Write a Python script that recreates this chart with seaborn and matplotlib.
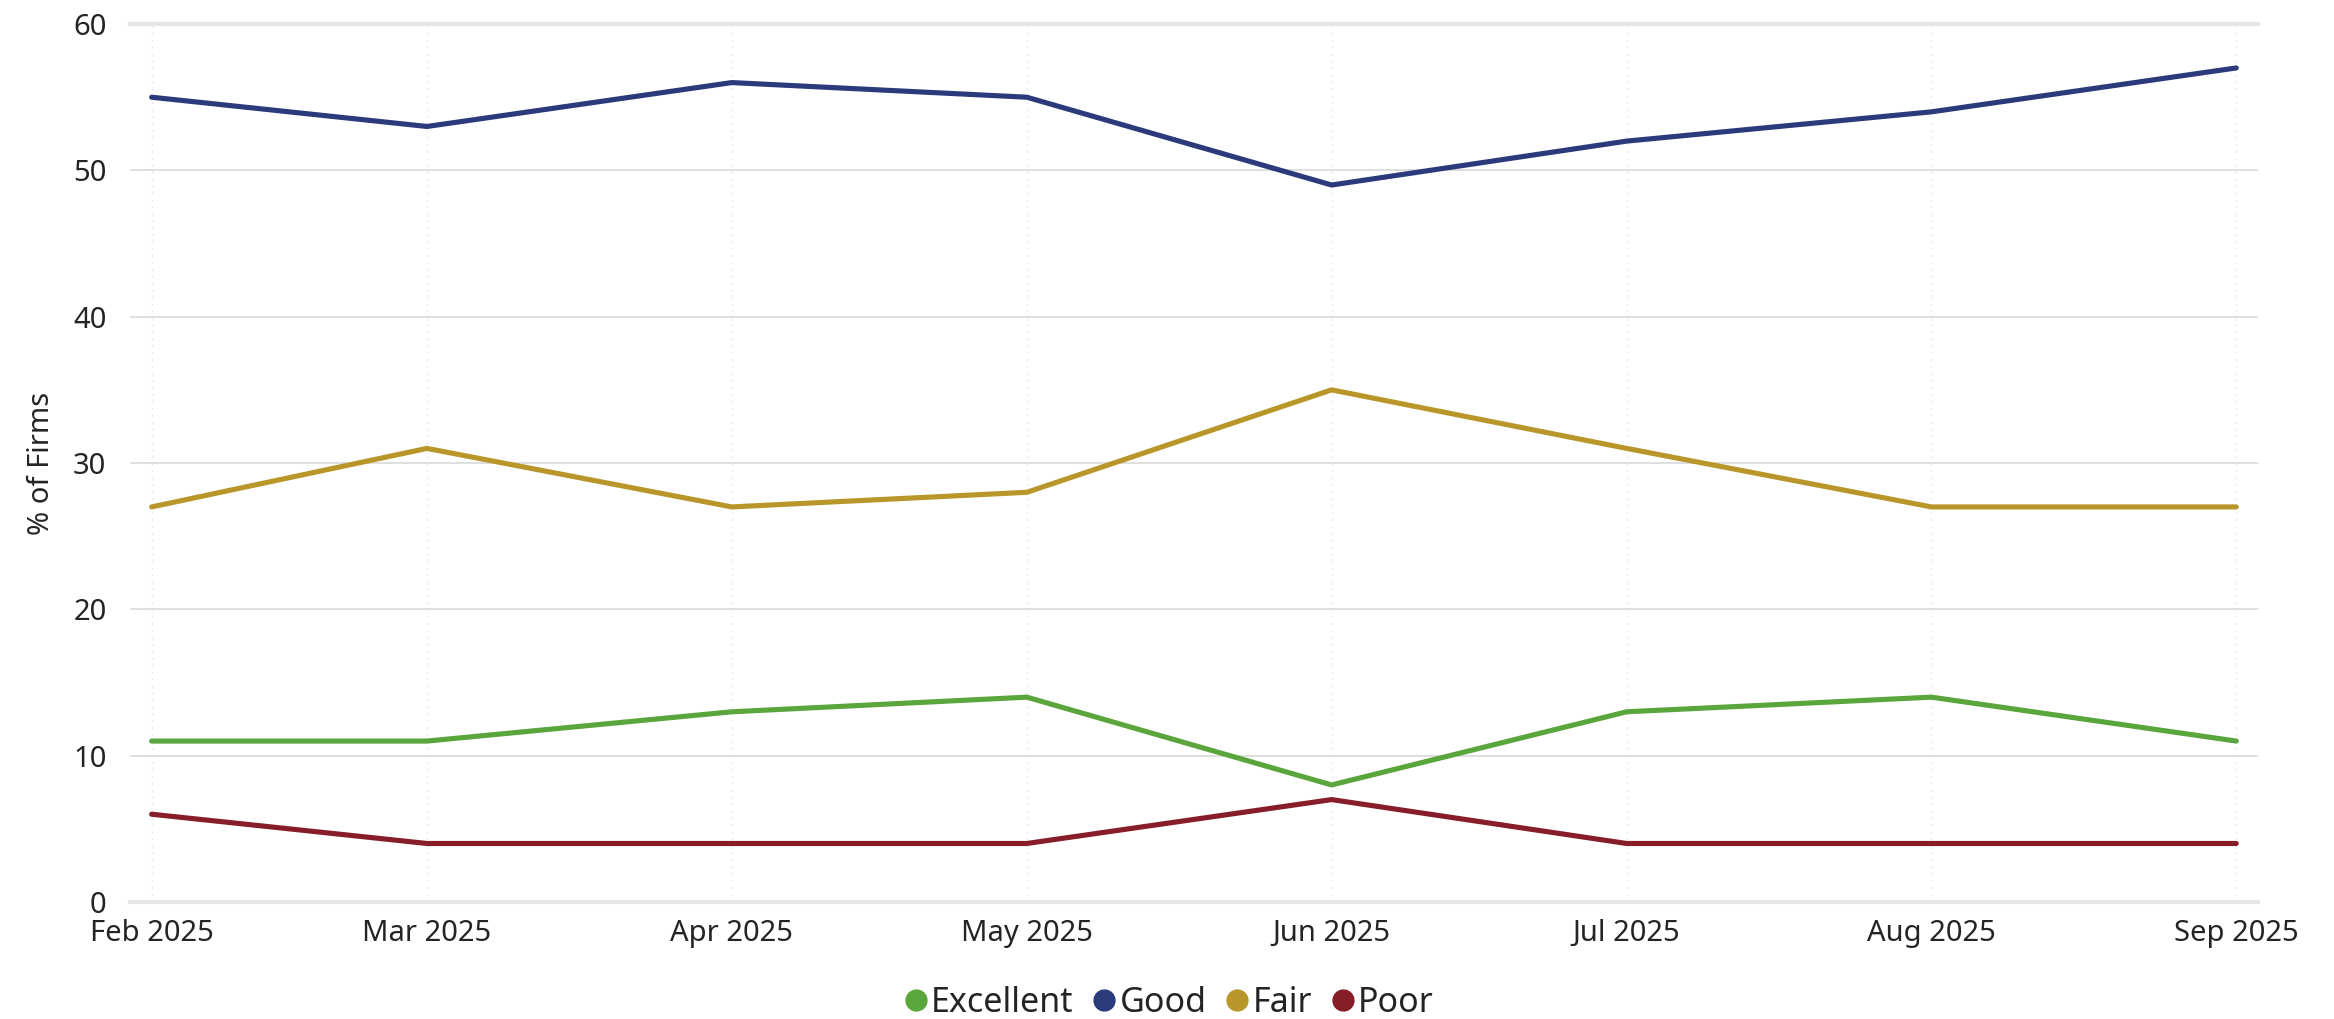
import matplotlib
matplotlib.use("Agg")
import matplotlib.pyplot as plt
import matplotlib.dates as mdates
from matplotlib.lines import Line2D
import seaborn as sns
import pandas as pd
import numpy as np

months = ["2025-02-01", "2025-03-01", "2025-04-01", "2025-05-01",
          "2025-06-01", "2025-07-01", "2025-08-01", "2025-09-01"]
series_names = ["Excellent", "Good", "Fair", "Poor"]
excellent = [11, 11, 13, 14, 8, 13, 14, 11]
good = [55, 53, 56, 55, 49, 52, 54, 57]
fair = [27, 31, 27, 28, 35, 31, 27, 27]
poor = [6, 4, 4, 4, 7, 4, 4, 4]
colors = ["#5aa53c", "#2b3a7a", "#b8962a", "#861d28"]
y_ticks = [0, 10, 20, 30, 40, 50, 60]

dates = pd.to_datetime(months)
df = pd.concat([
    pd.DataFrame({"Month": dates, "Value": vals, "Rating": name})
    for name, vals in zip(series_names, [excellent, good, fair, poor])
], ignore_index=True)

sns.set_theme(style="white")
plt.rcParams["font.family"] = ["Noto Sans", "DejaVu Sans"]
text_color = "#252423"

fig = plt.figure(figsize=(23.34, 10.19), dpi=100)
ax = fig.add_axes([0.0557, 0.1148, 0.9117, 0.8616])

palette = dict(zip(series_names, colors))
sns.lineplot(data=df, x="Month", y="Value", hue="Rating", palette=palette,
             hue_order=series_names, linewidth=3.7, ax=ax, legend=False)
for ln in ax.get_lines():
    ln.set_clip_on(False)

ax.set_ylim(0, 60)
ax.set_yticks(y_ticks)
ax.set_xlim(dates[0] - pd.Timedelta(days=2.2), dates[-1] + pd.Timedelta(days=2.2))
ax.set_xticks(dates)
ax.xaxis.set_major_formatter(mdates.DateFormatter("%b %Y"))

ax.grid(axis="y", color="#dcdcdc", linewidth=1.3)
ax.grid(axis="x", color="#dde0ea", linewidth=1.0, linestyle=(0, (1, 4)))
for s in ["left", "right"]:
    ax.spines[s].set_visible(False)
for s in ["top", "bottom"]:
    ax.spines[s].set_color("#e6e6e6")
    ax.spines[s].set_linewidth(3)

ax.tick_params(axis="y", length=0, pad=17, labelsize=21, labelcolor=text_color)
ax.tick_params(axis="x", length=0, pad=12, labelsize=21, labelcolor=text_color)
ax.set_xlabel("")
ax.set_ylabel("% of Firms", fontsize=21, color=text_color, labelpad=12)

handles = [Line2D([], [], marker="o", linestyle="", markersize=15,
                  markerfacecolor=c, markeredgecolor=c) for c in colors]
fig.legend(handles, series_names, loc="center", bbox_to_anchor=(0.5, 0.016),
           ncol=4, frameon=False, fontsize=24.5, handletextpad=0.0,
           columnspacing=0.45, handlelength=0.9, labelcolor=text_color)

fig.savefig("out.png", dpi=100, facecolor="white")
